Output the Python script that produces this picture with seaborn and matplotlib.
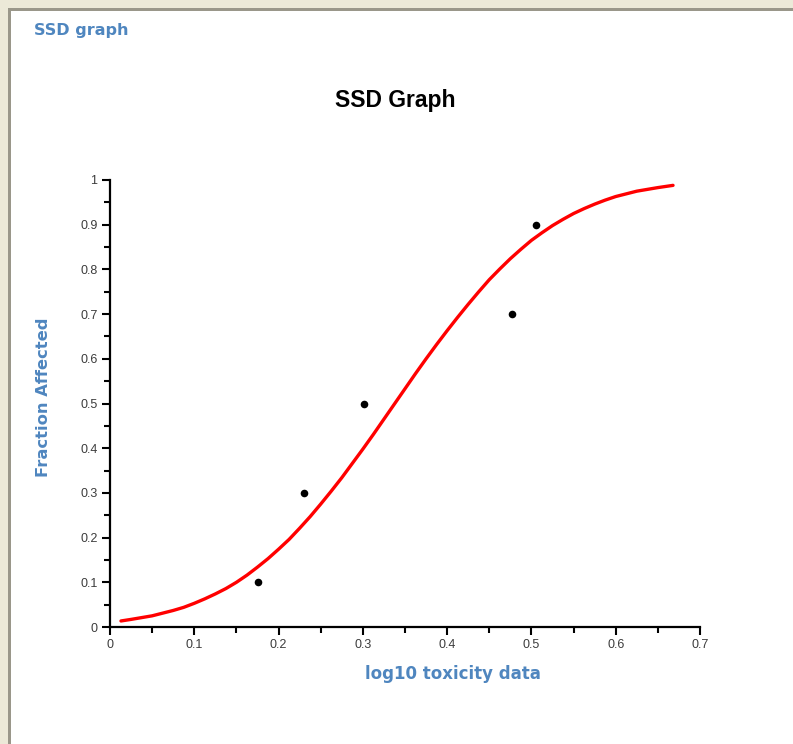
import matplotlib
matplotlib.use("Agg")
import matplotlib.pyplot as plt
from matplotlib.ticker import MultipleLocator
from matplotlib.patches import Rectangle
import seaborn as sns
import pandas as pd

# Observed toxicity data (log10 scale) and fraction of species affected
log_tox = [0.176, 0.230, 0.301, 0.477, 0.505]
frac_affected = [0.1, 0.3, 0.5, 0.7, 0.9]

# Fitted species sensitivity distribution curve
curve_x = [0.013, 0.025, 0.0375, 0.05, 0.0625, 0.075, 0.0875, 0.10, 0.1125,
           0.125, 0.1375, 0.15, 0.1625, 0.175, 0.1875, 0.20, 0.2125, 0.225,
           0.2375, 0.25, 0.2625, 0.275, 0.2875, 0.30, 0.3125, 0.325, 0.3375,
           0.35, 0.3625, 0.375, 0.3875, 0.40, 0.4125, 0.425, 0.4375, 0.45,
           0.4625, 0.475, 0.4875, 0.50, 0.5125, 0.525, 0.5375, 0.55, 0.5625,
           0.575, 0.5875, 0.60, 0.6125, 0.625, 0.6375, 0.65, 0.668]
curve_y = [0.0135, 0.017, 0.021, 0.025, 0.031, 0.037, 0.044, 0.053, 0.063,
           0.074, 0.086, 0.100, 0.116, 0.134, 0.153, 0.174, 0.196, 0.221,
           0.247, 0.275, 0.304, 0.334, 0.366, 0.398, 0.431, 0.465, 0.499,
           0.533, 0.567, 0.600, 0.632, 0.663, 0.693, 0.722, 0.750, 0.777,
           0.801, 0.824, 0.845, 0.865, 0.882, 0.898, 0.912, 0.925, 0.936,
           0.946, 0.955, 0.963, 0.969, 0.975, 0.979, 0.983, 0.988]

x_ticks = [0, 0.1, 0.2, 0.3, 0.4, 0.5, 0.6, 0.7]
y_ticks = [0, 0.1, 0.2, 0.3, 0.4, 0.5, 0.6, 0.7, 0.8, 0.9, 1]

points = pd.DataFrame({"x": log_tox, "y": frac_affected})
fit = pd.DataFrame({"x": curve_x, "y": curve_y})

sns.set_style("white")
plt.rcParams["font.family"] = ["Liberation Sans", "DejaVu Sans"]

W, H = 793, 744
fig = plt.figure(figsize=(W / 100, H / 100), dpi=100)
fig.patch.set_facecolor("white")

# Window frame: beige strip with a grey inner edge on top and left
beige = "#ece9d8"
grey = "#9a978a"
fig.add_artist(Rectangle((0, 1 - 8 / H), 1, 8 / H, transform=fig.transFigure,
                         facecolor=beige, edgecolor="none"))
fig.add_artist(Rectangle((0, 0), 8 / W, 1, transform=fig.transFigure,
                         facecolor=beige, edgecolor="none"))
fig.add_artist(Rectangle((8 / W, 1 - 11 / H), 1, 3 / H, transform=fig.transFigure,
                         facecolor=grey, edgecolor="none"))
fig.add_artist(Rectangle((8 / W, 0), 3 / W, 1 - 8 / H, transform=fig.transFigure,
                         facecolor=grey, edgecolor="none"))

label_blue = "#4f86bf"
fig.text(34 / W, 1 - 31 / H, "SSD graph", color=label_blue, fontsize=11.5,
         fontweight="bold", family="DejaVu Sans", va="center", ha="left")

ax = fig.add_axes([110 / W, (H - 627) / H, 590 / W, 447 / H])
ax.set_facecolor("white")

sns.lineplot(data=fit, x="x", y="y", ax=ax, color="#ff0000", linewidth=2.4,
             sort=False, estimator=None)
sns.scatterplot(data=points, x="x", y="y", ax=ax, color="black", s=30,
                edgecolor="black", linewidth=0, zorder=5)

ax.set_xlim(0, 0.7)
ax.set_ylim(0, 1)
ax.set_xticks(x_ticks)
ax.set_yticks(y_ticks)
ax.xaxis.set_minor_locator(MultipleLocator(0.05))
ax.yaxis.set_minor_locator(MultipleLocator(0.05))
ax.set_xticklabels([f"{v:g}" for v in x_ticks])
ax.set_yticklabels([f"{v:g}" for v in y_ticks])

for s in ["top", "right"]:
    ax.spines[s].set_visible(False)
for s in ["left", "bottom"]:
    ax.spines[s].set_color("black")
    ax.spines[s].set_linewidth(1.6)

ax.tick_params(axis="both", which="major", direction="out", length=6,
               width=1.5, color="black", labelsize=9, labelcolor="#3c3c3c",
               pad=3, bottom=True, left=True)
ax.tick_params(axis="both", which="minor", direction="out", length=4,
               width=1.5, color="black", bottom=True, left=True)

ax.set_xlabel("")
ax.set_ylabel("")
fig.text(453 / W, 1 - 674 / H, "log10 toxicity data", color=label_blue,
         fontsize=12, fontweight="bold", family="DejaVu Sans",
         ha="center", va="center")
fig.text(44 / W, 1 - 397 / H, "Fraction Affected", color=label_blue,
         fontsize=11.8, fontweight="bold", family="DejaVu Sans",
         ha="center", va="center", rotation=90)
fig.text(395 / W, 1 - 101 / H, "SSD Graph", fontsize=16.5, fontweight="bold",
         color="black", ha="center", va="center")

fig.savefig("out.png", dpi=100)
